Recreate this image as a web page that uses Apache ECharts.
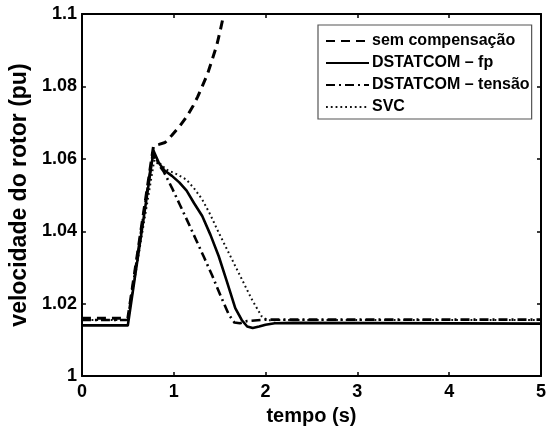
<!DOCTYPE html>
<html>
<head>
<meta charset="utf-8">
<script src="https://cdn.jsdelivr.net/npm/echarts@6/dist/echarts.min.js"></script>
<style>html,body{margin:0;padding:0;background:#fff}#c{width:549px;height:431px}</style>
</head>
<body>
<div id="c"></div>
<script>
var seriesNames = ['sem compensação', 'DSTATCOM – fp', 'DSTATCOM – tensão', 'SVC'];
var xTicks = [0, 1, 2, 3, 4, 5];
var yTicks = [1, 1.02, 1.04, 1.06, 1.08, 1.1];

var semT = [0, 0.5, 0.78, 0.84, 0.905, 0.98, 1.065, 1.14, 1.21, 1.26, 1.31, 1.37, 1.42, 1.47, 1.51, 1.546];
var semV = [1.016, 1.016, 1.0636, 1.0640, 1.0645, 1.0665, 1.069, 1.0716, 1.0746, 1.0771, 1.080, 1.0836, 1.0875, 1.0915, 1.0958, 1.1];

var fpT = [0, 0.5, 0.78, 0.84, 0.9, 0.98, 1.06, 1.14, 1.22, 1.31, 1.40, 1.49, 1.58, 1.67, 1.74, 1.80, 1.86, 1.93, 2.0, 2.1, 2.3, 5];
var fpV = [1.014, 1.014, 1.0622, 1.0588, 1.0568, 1.0553, 1.0535, 1.0512, 1.0478, 1.0442, 1.0390, 1.0331, 1.0260, 1.0188, 1.0155, 1.0137, 1.0133, 1.0137, 1.0142, 1.0146, 1.0147, 1.0145];

var tenT = [0, 0.5, 0.77, 0.82, 0.89, 0.98, 1.065, 1.15, 1.24, 1.33, 1.42, 1.51, 1.60, 1.66, 1.72, 1.8, 2.0, 5];
var tenV = [1.0155, 1.0155, 1.0612, 1.059, 1.0565, 1.052, 1.0474, 1.0428, 1.0378, 1.0328, 1.0277, 1.0222, 1.017, 1.0148, 1.0146, 1.0152, 1.0156, 1.0156];

var svcT = [0, 0.5, 0.79, 0.86, 0.92, 1.03, 1.136, 1.22, 1.31, 1.40, 1.49, 1.58, 1.67, 1.76, 1.85, 1.955, 2.02, 2.2, 5];
var svcV = [1.0155, 1.0155, 1.0600, 1.0585, 1.057, 1.0558, 1.0543, 1.0519, 1.0488, 1.0445, 1.0396, 1.0350, 1.0304, 1.0258, 1.0212, 1.0166, 1.0154, 1.0155, 1.0155];

function pairs(t, v) { return t.map(function (x, i) { return [x, v[i]]; }); }

var font = 'Liberation Sans, Arial, Helvetica, sans-serif';
var chart = echarts.init(document.getElementById('c'), null, {renderer: 'canvas'});

function axisBase() {
  return {
    axisLine: {show: true, onZero: false, lineStyle: {color: '#000', width: 2}},
    axisTick: {show: true, inside: true, length: 4, lineStyle: {color: '#000', width: 1.5}},
    splitLine: {show: false}
  };
}

var xMain = Object.assign(axisBase(), {
  type: 'value', min: 0, max: 5, interval: 1, position: 'bottom',
  name: 'tempo (s)', nameLocation: 'middle', nameGap: 26,
  nameTextStyle: {fontFamily: font, fontWeight: 'bold', fontSize: 20, color: '#000'},
  axisLabel: {fontFamily: font, fontWeight: 'bold', fontSize: 18, color: '#000', margin: 7,
    formatter: function (v) { return xTicks.indexOf(v) >= 0 ? String(v) : ''; }}
});
var xTop = Object.assign(axisBase(), {
  type: 'value', min: 0, max: 5, interval: 1, position: 'top', axisLabel: {show: false}
});
var yMain = Object.assign(axisBase(), {
  type: 'value', min: 1, max: 1.1, interval: 0.02, position: 'left',
  name: 'velocidade do rotor (pu)', nameLocation: 'middle', nameGap: 40,
  nameTextStyle: {fontFamily: font, fontWeight: 'bold', fontSize: 23, color: '#000'},
  axisLabel: {fontFamily: font, fontWeight: 'bold', fontSize: 18, color: '#000', margin: 5,
    formatter: function (v) {
      var r = Math.round(v * 100) / 100;
      return String(r);
    }}
});
var yRight = Object.assign(axisBase(), {
  type: 'value', min: 1, max: 1.1, interval: 0.02, position: 'right', axisLabel: {show: false}
});

function lineSeries(name, data, style, z) {
  return {
    name: name, type: 'line', data: data, symbol: 'none', showSymbol: false,
    xAxisIndex: 0, yAxisIndex: 0, clip: true, z: z,
    lineStyle: style, itemStyle: {color: '#000'}
  };
}

chart.setOption({
  animation: false,
  backgroundColor: '#fff',
  grid: {left: 77, right: 4, top: 14, bottom: 54, containLabel: false},
  xAxis: [xMain, xTop],
  yAxis: [yMain, yRight],
  legend: {
    orient: 'vertical', left: 318, top: 25,
    data: seriesNames,
    backgroundColor: '#fff',
    borderColor: '#555', borderWidth: 1.2,
    padding: [8, 2, 4, 7],
    itemWidth: 43, itemHeight: 14, itemGap: 6,
    itemStyle: {opacity: 0},
    textStyle: {fontFamily: font, fontWeight: 'bold', fontSize: 16, color: '#000', padding: [0, 0, 0, -2]}
  },
  series: [
    lineSeries(seriesNames[0], pairs(semT, semV), {color: '#000', width: 3, type: [9, 6], join: 'round'}, 4),
    lineSeries(seriesNames[1], pairs(fpT, fpV), {color: '#000', width: 2.6, type: 'solid', join: 'round'}, 3),
    lineSeries(seriesNames[2], pairs(tenT, tenV), {color: '#000', width: 2.6, type: [9, 4, 2, 4], join: 'round'}, 2),
    lineSeries(seriesNames[3], pairs(svcT, svcV), {color: '#111', width: 2, type: [1.8, 3], join: 'round'}, 1)
  ]
});
</script>
</body>
</html>
